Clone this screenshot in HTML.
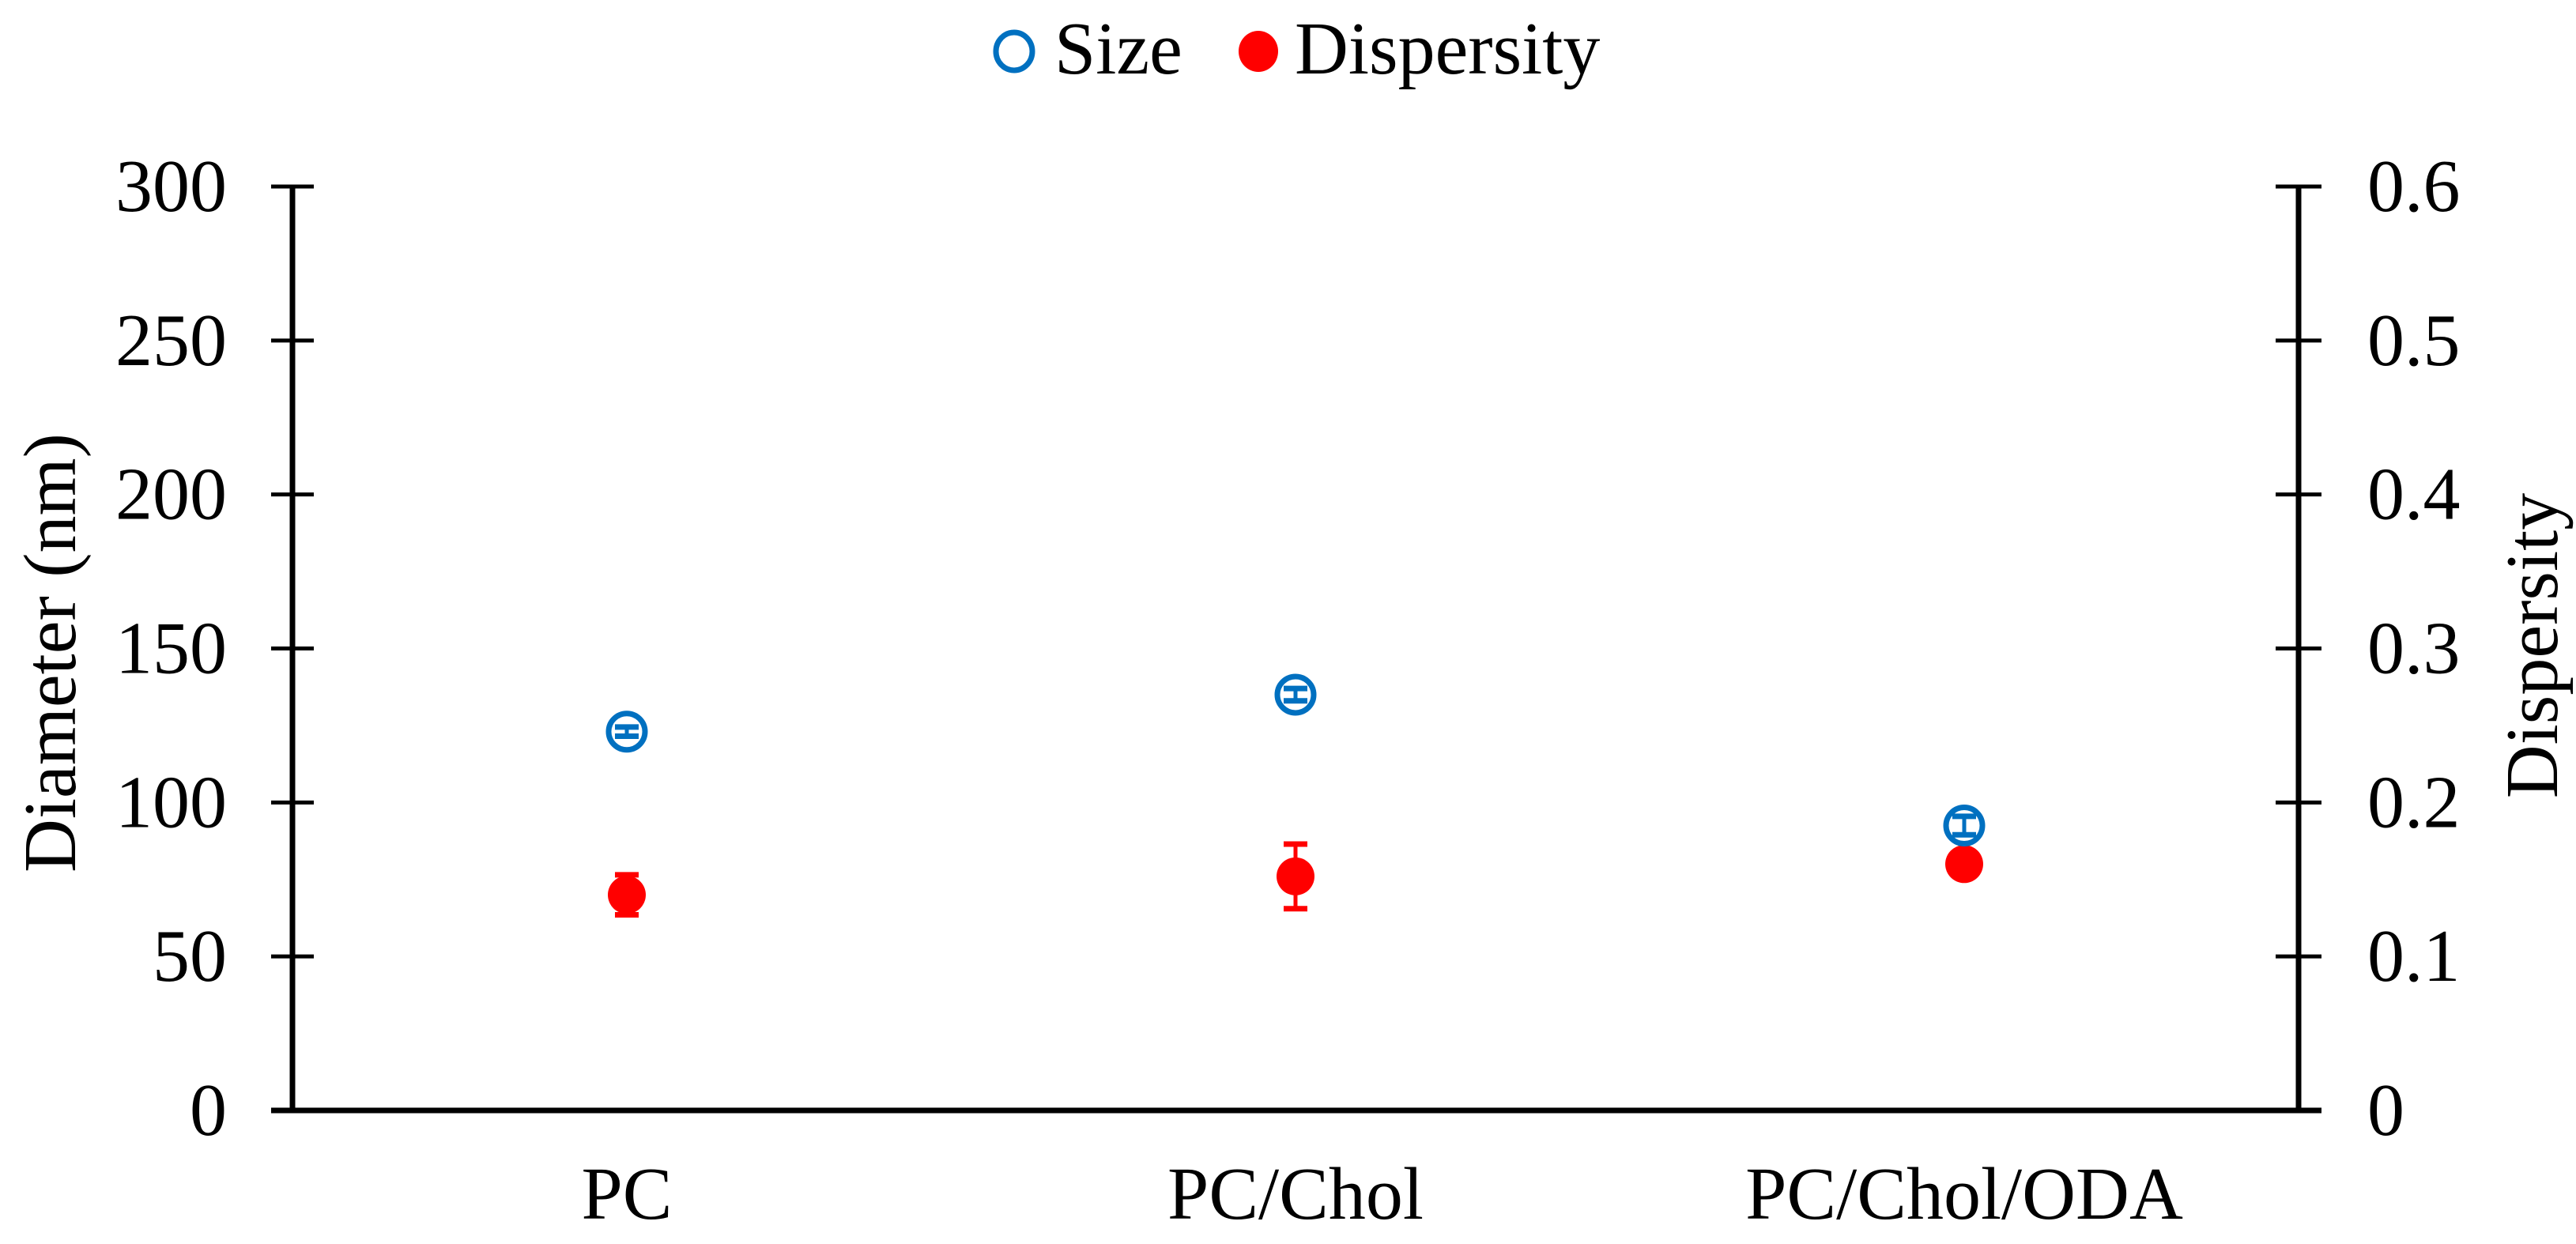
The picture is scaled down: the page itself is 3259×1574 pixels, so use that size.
<!DOCTYPE html>
<html><head><meta charset="utf-8"><style>
html,body{margin:0;padding:0;background:#fff;}
svg{display:block;font-family:"Liberation Serif","Times New Roman",serif;}
</style></head><body>
<svg id="chart" width="3259" height="1574" viewBox="0 0 3259 1574">
<g>
<g>
<ellipse cx="1283" cy="65" rx="23" ry="24" fill="#fff" stroke="#0070C0" stroke-width="7"/>
<text x="1334" y="93" font-size="94">Size</text></g>
<g>
<ellipse cx="1592" cy="65" rx="25" ry="26" fill="#FF0000"/>
<text x="1638" y="93" font-size="94">Dispersity</text></g>
</g>
<g id="axes"></g>
<g id="marks"></g>
<text transform="translate(95,826) rotate(-90)" text-anchor="middle" font-size="94">Diameter (nm)</text>
<text transform="translate(3235,817) rotate(-90)" text-anchor="middle" font-size="94">Dispersity</text>
</svg>
<script>
const categories = ["PC", "PC/Chol", "PC/Chol/ODA"];
const sizeValues = [123, 135, 92.5];
const sizeErrors = [1.5, 2, 3];
const dispValues = [0.14, 0.152, 0.16];
const dispErrors = [0.013, 0.021, 0.004];
const leftTicks = [0, 50, 100, 150, 200, 250, 300];
const rightTicks = ["0", "0.1", "0.2", "0.3", "0.4", "0.5", "0.6"];

const NS = "http://www.w3.org/2000/svg";
const X0 = 370, X1 = 2908, Y0 = 1405, Y1 = 236;
function yL(v){ return Y0 - (v/300)*(Y0-Y1); }
function yR(v){ return Y0 - (v/0.6)*(Y0-Y1); }
function xC(i){ return X0 + (i+0.5)*(X1-X0)/categories.length; }
function mk(tag, attrs, parent){ const e=document.createElementNS(NS,tag); for(const k in attrs) e.setAttribute(k,attrs[k]); parent.appendChild(e); return e; }

const axes = document.getElementById('axes');
const marks = document.getElementById('marks');

let l = mk('line',{x1:X0,y1:Y1,x2:X0,y2:Y0,stroke:'#000','stroke-width':7},axes);


l = mk('line',{x1:X1,y1:Y1,x2:X1,y2:Y0,stroke:'#000','stroke-width':7},axes);


l = mk('line',{x1:X0-27,y1:Y0,x2:X1+29,y2:Y0,stroke:'#000','stroke-width':7},axes);



leftTicks.forEach(v=>{
  const y=yL(v);
  let t=mk('line',{x1:X0-27,y1:y,x2:X0+27,y2:y,stroke:'#000','stroke-width':5},axes);
  
  
  let tx=mk('text',{x:287,y:y+31,'text-anchor':'end','font-size':94},axes);
  tx.textContent=v;
  
  
});
rightTicks.forEach(s=>{
  const y=yR(parseFloat(s));
  let t=mk('line',{x1:X1-29,y1:y,x2:X1+29,y2:y,stroke:'#000','stroke-width':5},axes);
  
  
  let tx=mk('text',{x:2995,y:y+31,'font-size':94},axes);
  tx.textContent=s;
  
  
});
categories.forEach((c,i)=>{
  let tx=mk('text',{x:xC(i),y:1542,'text-anchor':'middle','font-size':94},axes);
  tx.textContent=c;
  
  
});

function errBar(x, yt, yb, color, name){
  const g=mk('g',{stroke:color,'stroke-width':5},marks);
  
  
  mk('line',{x1:x,y1:yt,x2:x,y2:yb},g);
  mk('line',{x1:x-15,y1:yt,x2:x+15,y2:yt,'stroke-width':7},g);
  mk('line',{x1:x-15,y1:yb,x2:x+15,y2:yb,'stroke-width':7},g);
}
dispValues.forEach((v,i)=>{
  const x=xC(i);
  errBar(x, yR(v+dispErrors[i]), yR(v-dispErrors[i]), '#FF0000','dispersity-error-bar');
  let c=mk('ellipse',{cx:x,cy:yR(v),rx:24,ry:24,fill:'#FF0000'},marks);
  
  
});
sizeValues.forEach((v,i)=>{
  const x=xC(i);
  let c=mk('ellipse',{cx:x,cy:yL(v),rx:23,ry:23,fill:'#fff',stroke:'#0070C0','stroke-width':7},marks);
  
  
  errBar(x, yL(v+sizeErrors[i]), yL(v-sizeErrors[i]), '#0070C0','size-error-bar');
});
</script>
</body></html>
